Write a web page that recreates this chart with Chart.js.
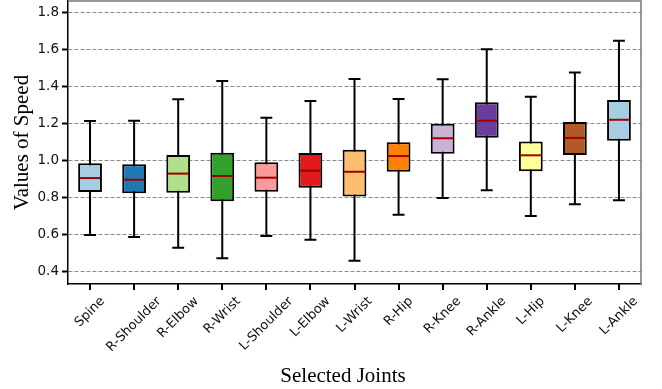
<!DOCTYPE html>
<html lang="en">
<head>
    <meta charset="UTF-8">
    <script src="https://cdn.jsdelivr.net/npm/chart.js"></script>
    <title>Speed per joint</title>
    <style>
        body { margin: 0; background: #fff; }
    </style>
</head>
<body>
    <canvas id="myChart" width="662" height="389"></canvas>
</body>

<script>
    // values
    const joints = ['Spine', 'R-Shoulder', 'R-Elbow', 'R-Wrist', 'L-Shoulder', 'L-Elbow', 'L-Wrist',
                    'R-Hip', 'R-Knee', 'R-Ankle', 'L-Hip', 'L-Knee', 'L-Ankle'];
    const whiskerLow  = [0.596, 0.585, 0.528, 0.470, 0.591, 0.571, 0.457, 0.706, 0.796, 0.838, 0.699, 0.762, 0.784];
    const q1          = [0.829, 0.822, 0.825, 0.778, 0.830, 0.852, 0.805, 0.938, 1.036, 1.122, 0.941, 1.029, 1.106];
    const median      = [0.904, 0.895, 0.928, 0.915, 0.906, 0.944, 0.938, 1.023, 1.119, 1.214, 1.027, 1.121, 1.219];
    const q3          = [0.984, 0.978, 1.029, 1.041, 0.989, 1.039, 1.057, 1.097, 1.198, 1.314, 1.101, 1.207, 1.326];
    const whiskerHigh = [1.212, 1.214, 1.330, 1.429, 1.230, 1.321, 1.439, 1.331, 1.438, 1.600, 1.344, 1.474, 1.646];
    const yTicks = [0.4, 0.6, 0.8, 1.0, 1.2, 1.4, 1.6, 1.8];

    const boxColors = ['#a6cee3', '#1f78b4', '#b2df8a', '#33a02c', '#fb9a99', '#e31a1c', '#fdbf6f',
                       '#ff7f00', '#cab2d6', '#6a3d9a', '#ffff99', '#b15928', '#a6cee3'];

    const boxData = joints.map((j, i) => [q1[i], q3[i]]);

    // whiskers behind the boxes, medians on top, plus rotated labels and frame
    const boxPlugin = {
        id: 'boxPlugin',
        beforeDatasetsDraw(chart) {
            const ctx = chart.ctx;
            const x = chart.scales.x, y = chart.scales.y;
            const bars = chart.getDatasetMeta(0).data;
            ctx.save();
            ctx.strokeStyle = '#000';
            ctx.lineWidth = 2;
            joints.forEach((j, i) => {
                const px = x.getPixelForValue(i);
                const cap = bars[i].width * 0.5;
                ctx.beginPath();
                ctx.moveTo(px, y.getPixelForValue(whiskerHigh[i]));
                ctx.lineTo(px, y.getPixelForValue(whiskerLow[i]));
                ctx.moveTo(px - cap / 2, y.getPixelForValue(whiskerHigh[i]));
                ctx.lineTo(px + cap / 2, y.getPixelForValue(whiskerHigh[i]));
                ctx.moveTo(px - cap / 2, y.getPixelForValue(whiskerLow[i]));
                ctx.lineTo(px + cap / 2, y.getPixelForValue(whiskerLow[i]));
                ctx.stroke();
            });
            ctx.restore();
        },
        afterDatasetsDraw(chart) {
            const ctx = chart.ctx;
            const x = chart.scales.x, y = chart.scales.y;
            const bars = chart.getDatasetMeta(0).data;
            ctx.save();
            ctx.strokeStyle = '#a00000';
            ctx.lineWidth = 2;
            joints.forEach((j, i) => {
                const px = x.getPixelForValue(i);
                const half = bars[i].width / 2 - 1.5;
                const py = y.getPixelForValue(median[i]);
                ctx.beginPath();
                ctx.moveTo(px - half, py);
                ctx.lineTo(px + half, py);
                ctx.stroke();
            });
            ctx.restore();
        },
        afterDraw(chart) {
            const ctx = chart.ctx;
            const area = chart.chartArea;
            const x = chart.scales.x;
            ctx.save();
            // top and right frame
            ctx.strokeStyle = '#777';
            ctx.lineWidth = 1.5;
            ctx.beginPath();
            ctx.moveTo(area.left, area.top);
            ctx.lineTo(area.right, area.top);
            ctx.lineTo(area.right, area.bottom);
            ctx.stroke();

            // x tick marks under each category
            ctx.strokeStyle = '#000';
            ctx.lineWidth = 2;
            joints.forEach((j, i) => {
                const px = Math.round(x.getPixelForValue(i));
                ctx.beginPath();
                ctx.moveTo(px, area.bottom);
                ctx.lineTo(px, area.bottom + 6);
                ctx.stroke();
            });

            // category labels, rotated 45deg and centred under the tick
            ctx.fillStyle = '#111';
            ctx.font = '13px "DejaVu Sans"';
            ctx.textAlign = 'center';
            ctx.textBaseline = 'middle';
            joints.forEach((j, i) => {
                const px = x.getPixelForValue(i);
                const w = ctx.measureText(j).width;
                const cy = area.bottom + 11 + (w + 12) * 0.3535;
                ctx.save();
                ctx.translate(px, cy);
                ctx.rotate(-Math.PI / 4);
                ctx.fillText(j, 0, 0);
                ctx.restore();
            });

            // x axis title
            ctx.fillStyle = '#000';
            ctx.font = '21px "Liberation Serif"';
            ctx.textBaseline = 'alphabetic';
            ctx.fillText('Selected Joints', 343, 382);
            ctx.restore();
        }
    };

    const ctx = document.getElementById('myChart');

    new Chart(ctx, {
        type: 'bar',
        data: {
            labels: joints,
            datasets: [{
                label: 'Speed',
                data: boxData,
                backgroundColor: boxColors,
                borderColor: '#000',
                borderWidth: 2,
                borderSkipped: false,
                barPercentage: 0.54,
                categoryPercentage: 1.0
            }]
        },
        options: {
            responsive: false,
            animation: false,
            layout: { padding: { top: 1, right: 21, left: 0, bottom: 0 } },
            plugins: {
                legend: { display: false },
                tooltip: { enabled: false }
            },
            scales: {
                x: {
                    grid: { display: false },
                    border: { display: true, color: '#000', width: 1.5 },
                    ticks: { display: false },
                    afterFit(scale) {
                        scale.height = 105;
                        scale.paddingLeft = 0;
                        scale.paddingRight = 0;
                    }
                },
                y: {
                    min: 0.3314,
                    max: 1.861,
                    z: 1,
                    afterBuildTicks(scale) {
                        scale.ticks = yTicks.map(v => ({ value: v }));
                    },
                    afterFit(scale) {
                        scale.width = 68;
                        scale.paddingTop = 0;
                        scale.paddingBottom = 0;
                    },
                    grid: {
                        color: '#8a8a8a',
                        lineWidth: 1,
                        tickLength: 6,
                        tickWidth: 2,
                        tickColor: '#000',
                        tickBorderDash: []
                    },
                    border: { display: true, color: '#000', width: 1.5, dash: [4, 2] },
                    ticks: {
                        padding: 3,
                        color: '#111',
                        font: { family: 'DejaVu Sans', size: 13.5 },
                        callback: function(value) {
                            return value.toFixed(1);
                        }
                    },
                    title: {
                        display: true,
                        text: 'Values of Speed',
                        color: '#000',
                        font: { family: 'Liberation Serif', size: 21 },
                        padding: { top: 10, bottom: 0 }
                    }
                }
            }
        },
        plugins: [boxPlugin]
    });
</script>
</html>
